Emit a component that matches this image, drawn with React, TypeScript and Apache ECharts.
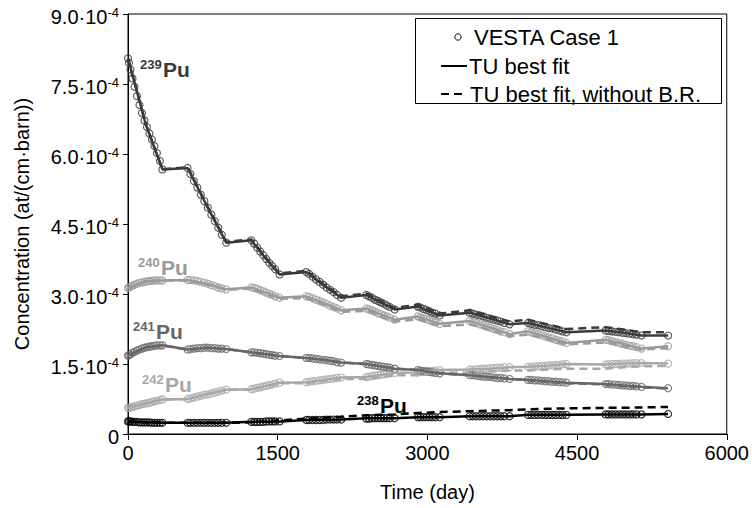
import React, { useEffect, useRef } from 'react';
import * as echarts from 'echarts';

const FONT = '"Liberation Sans", Arial, Helvetica, sans-serif';

// VESTA Case 1 sample times (days) – burn cycles plus end point
const vestaTimes = [
  0, 10, 25, 45, 65, 90, 115, 140, 165, 190, 215, 240, 265, 290, 320, 345,
  597, 625, 660, 695, 730, 765, 800, 835, 870, 905, 940, 984,
  1235, 1265, 1295, 1325, 1355, 1385, 1415, 1445, 1475, 1519,
  1786, 1815, 1850, 1885, 1920, 1955, 1990, 2025, 2060, 2095, 2137,
  2388, 2415, 2445, 2475, 2505, 2535, 2565, 2595, 2625, 2672,
  2905, 2930, 2960, 2990, 3020, 3050, 3080, 3123,
  3423, 3455, 3490, 3525, 3560, 3595, 3630, 3665, 3700, 3735, 3770, 3824,
  4008, 4040, 4075, 4110, 4145, 4180, 4215, 4250, 4285, 4320, 4355, 4393,
  4787, 4815, 4850, 4885, 4920, 4955, 4990, 5025, 5060, 5095, 5145,
  5412,
];

// concentrations in units of 1e-4 at/(cm·barn)
const pu239Vesta = [
  8.05, 7.95, 7.81, 7.62, 7.44, 7.24, 7.05, 6.88, 6.72, 6.58, 6.44, 6.31, 6.17, 6.02, 5.85, 5.67,
  5.70, 5.57, 5.42, 5.28, 5.13, 4.99, 4.85, 4.70, 4.56, 4.42, 4.27, 4.10,
  4.15, 4.08, 3.99, 3.91, 3.83, 3.75, 3.67, 3.60, 3.53, 3.42,
  3.47, 3.43, 3.37, 3.31, 3.26, 3.20, 3.14, 3.09, 3.04, 2.98, 2.92,
  2.98, 2.95, 2.92, 2.88, 2.85, 2.82, 2.79, 2.75, 2.72, 2.67,
  2.73, 2.71, 2.68, 2.66, 2.63, 2.60, 2.58, 2.54,
  2.60, 2.58, 2.56, 2.54, 2.52, 2.49, 2.47, 2.45, 2.43, 2.41, 2.38, 2.35,
  2.38, 2.36, 2.34, 2.33, 2.31, 2.29, 2.27, 2.26, 2.24, 2.22, 2.20, 2.18,
  2.22, 2.21, 2.20, 2.19, 2.18, 2.17, 2.16, 2.15, 2.14, 2.13, 2.11,
  2.11,
];
const pu240Vesta = [
  3.13, 3.14, 3.16, 3.18, 3.20, 3.22, 3.24, 3.25, 3.26, 3.27, 3.28, 3.28, 3.29, 3.29, 3.29, 3.29,
  3.30, 3.30, 3.29, 3.28, 3.26, 3.24, 3.22, 3.19, 3.17, 3.14, 3.12, 3.10,
  3.14, 3.13, 3.11, 3.08, 3.06, 3.03, 3.00, 2.98, 2.95, 2.92,
  2.95, 2.94, 2.91, 2.88, 2.85, 2.82, 2.79, 2.75, 2.72, 2.69, 2.65,
  2.69, 2.67, 2.65, 2.62, 2.59, 2.57, 2.54, 2.52, 2.49, 2.45,
  2.52, 2.50, 2.48, 2.46, 2.44, 2.41, 2.39, 2.36,
  2.42, 2.40, 2.38, 2.35, 2.33, 2.30, 2.28, 2.25, 2.23, 2.20, 2.18, 2.14,
  2.20, 2.18, 2.16, 2.14, 2.12, 2.09, 2.07, 2.05, 2.02, 2.00, 1.98, 1.95,
  2.02, 2.01, 1.99, 1.97, 1.95, 1.93, 1.91, 1.89, 1.88, 1.86, 1.83,
  1.88,
];
const pu241Vesta = [
  1.68, 1.69, 1.71, 1.74, 1.76, 1.79, 1.81, 1.83, 1.85, 1.86, 1.87, 1.88, 1.89, 1.90, 1.90, 1.90,
  1.81, 1.82, 1.83, 1.84, 1.84, 1.85, 1.85, 1.84, 1.84, 1.83, 1.83, 1.82,
  1.75, 1.75, 1.74, 1.73, 1.72, 1.71, 1.70, 1.69, 1.68, 1.67,
  1.63, 1.63, 1.62, 1.61, 1.60, 1.59, 1.58, 1.57, 1.56, 1.54, 1.53,
  1.50, 1.49, 1.48, 1.47, 1.46, 1.45, 1.44, 1.43, 1.42, 1.40,
  1.37, 1.36, 1.35, 1.34, 1.33, 1.32, 1.31, 1.30,
  1.26, 1.26, 1.25, 1.24, 1.23, 1.23, 1.22, 1.21, 1.20, 1.20, 1.19, 1.18,
  1.16, 1.16, 1.15, 1.15, 1.14, 1.13, 1.13, 1.12, 1.12, 1.11, 1.11, 1.10,
  1.07, 1.07, 1.06, 1.06, 1.05, 1.04, 1.04, 1.03, 1.03, 1.02, 1.01,
  0.98,
];
const pu242Vesta = [
  0.56, 0.56, 0.57, 0.58, 0.59, 0.61, 0.62, 0.64, 0.65, 0.66, 0.67, 0.69, 0.70, 0.71, 0.73, 0.74,
  0.75, 0.76, 0.78, 0.80, 0.82, 0.84, 0.85, 0.87, 0.89, 0.91, 0.93, 0.95,
  0.96, 0.97, 0.99, 1.00, 1.02, 1.03, 1.05, 1.06, 1.08, 1.10,
  1.11, 1.12, 1.13, 1.14, 1.15, 1.16, 1.17, 1.18, 1.19, 1.20, 1.21,
  1.22, 1.23, 1.24, 1.25, 1.26, 1.27, 1.28, 1.29, 1.30, 1.31,
  1.32, 1.33, 1.33, 1.34, 1.35, 1.35, 1.36, 1.37,
  1.38, 1.38, 1.39, 1.39, 1.40, 1.40, 1.41, 1.41, 1.42, 1.42, 1.43, 1.43,
  1.44, 1.44, 1.45, 1.45, 1.46, 1.46, 1.47, 1.47, 1.48, 1.48, 1.49, 1.50,
  1.49, 1.49, 1.50, 1.50, 1.50, 1.51, 1.51, 1.51, 1.52, 1.52, 1.52,
  1.51,
];
const pu238Vesta = [
  0.27, 0.27, 0.27, 0.26, 0.26, 0.26, 0.25, 0.25, 0.25, 0.25, 0.25, 0.24, 0.24, 0.24, 0.24, 0.24,
  0.24, 0.24, 0.24, 0.24, 0.24, 0.24, 0.24, 0.24, 0.24, 0.24, 0.24, 0.24,
  0.26, 0.26, 0.26, 0.26, 0.26, 0.27, 0.27, 0.27, 0.27, 0.27,
  0.30, 0.30, 0.30, 0.30, 0.30, 0.30, 0.31, 0.31, 0.31, 0.31, 0.31,
  0.33, 0.33, 0.34, 0.34, 0.34, 0.34, 0.34, 0.34, 0.34, 0.34,
  0.36, 0.36, 0.36, 0.36, 0.36, 0.36, 0.36, 0.36,
  0.38, 0.38, 0.38, 0.38, 0.38, 0.38, 0.38, 0.38, 0.38, 0.38, 0.38, 0.38,
  0.41, 0.41, 0.41, 0.41, 0.41, 0.41, 0.41, 0.41, 0.41, 0.41, 0.41, 0.41,
  0.42, 0.42, 0.42, 0.42, 0.42, 0.42, 0.42, 0.42, 0.42, 0.42, 0.42,
  0.43,
];

// TU best fit curves (days / 1e-4 units)
const fitTimes = [
  0, 175, 345, 597, 790, 984, 1235, 1380, 1519, 1786, 1960, 2137, 2388, 2530,
  2672, 2905, 3015, 3123, 3423, 3620, 3824, 4008, 4200, 4393, 4787, 4965, 5145, 5412,
];
const pu239Fit = [8.05, 6.66, 5.67, 5.70, 4.89, 4.10, 4.15, 3.76, 3.42, 3.47, 3.19, 2.92, 2.98, 2.82, 2.67, 2.73, 2.63, 2.54, 2.60, 2.48, 2.35, 2.38, 2.28, 2.18, 2.22, 2.17, 2.11, 2.11];
const pu239NoBR = [8.05, 6.66, 5.67, 5.72, 4.90, 4.12, 4.17, 3.78, 3.44, 3.50, 3.21, 2.95, 3.01, 2.85, 2.70, 2.77, 2.67, 2.58, 2.65, 2.53, 2.41, 2.45, 2.35, 2.25, 2.29, 2.24, 2.18, 2.18];
const pu240Fit = [3.13, 3.27, 3.29, 3.30, 3.22, 3.10, 3.14, 3.03, 2.92, 2.95, 2.81, 2.65, 2.69, 2.57, 2.45, 2.52, 2.44, 2.36, 2.42, 2.29, 2.14, 2.20, 2.08, 1.95, 2.02, 1.93, 1.83, 1.88];
const pu240NoBR = [3.13, 3.27, 3.29, 3.29, 3.21, 3.09, 3.12, 3.01, 2.90, 2.91, 2.78, 2.62, 2.64, 2.53, 2.41, 2.46, 2.39, 2.31, 2.35, 2.23, 2.10, 2.13, 2.03, 1.92, 1.96, 1.88, 1.81, 1.84];
const pu241Fit = [1.68, 1.855, 1.90, 1.81, 1.85, 1.82, 1.75, 1.71, 1.67, 1.63, 1.59, 1.53, 1.50, 1.45, 1.40, 1.37, 1.335, 1.30, 1.26, 1.22, 1.18, 1.16, 1.13, 1.10, 1.07, 1.04, 1.01, 0.98];
const pu241NoBR = [1.68, 1.855, 1.90, 1.81, 1.85, 1.82, 1.75, 1.71, 1.67, 1.63, 1.59, 1.53, 1.50, 1.45, 1.40, 1.37, 1.33, 1.30, 1.26, 1.22, 1.18, 1.15, 1.12, 1.09, 1.06, 1.03, 1.00, 0.97];
const pu242Fit = [0.56, 0.655, 0.74, 0.75, 0.85, 0.95, 0.96, 1.03, 1.10, 1.11, 1.16, 1.21, 1.22, 1.265, 1.31, 1.32, 1.35, 1.37, 1.38, 1.40, 1.43, 1.44, 1.465, 1.50, 1.49, 1.51, 1.52, 1.51];
const pu242NoBR = [0.56, 0.655, 0.74, 0.75, 0.85, 0.95, 0.95, 1.02, 1.09, 1.09, 1.14, 1.18, 1.18, 1.22, 1.26, 1.26, 1.29, 1.31, 1.31, 1.34, 1.36, 1.36, 1.38, 1.40, 1.40, 1.43, 1.45, 1.46];
const pu238Fit = [0.27, 0.25, 0.24, 0.24, 0.24, 0.24, 0.26, 0.265, 0.27, 0.30, 0.305, 0.31, 0.34, 0.34, 0.34, 0.36, 0.36, 0.36, 0.38, 0.38, 0.38, 0.41, 0.41, 0.41, 0.42, 0.42, 0.42, 0.43];
const pu238NoBR = [0.27, 0.25, 0.24, 0.24, 0.24, 0.24, 0.25, 0.27, 0.29, 0.33, 0.35, 0.37, 0.40, 0.41, 0.42, 0.45, 0.46, 0.47, 0.49, 0.50, 0.51, 0.53, 0.54, 0.55, 0.56, 0.56, 0.57, 0.58];

const legendNames = ['VESTA Case 1', 'TU best fit', 'TU best fit, without B.R.'];

const isotopes = [
  { mass: '242', color: '#a8a8a8', vesta: pu242Vesta, fit: pu242Fit, nobr: pu242NoBR, lx: 142, ly: 384 },
  { mass: '240', color: '#9a9a9a', vesta: pu240Vesta, fit: pu240Fit, nobr: pu240NoBR, lx: 138, ly: 267 },
  { mass: '241', color: '#666666', vesta: pu241Vesta, fit: pu241Fit, nobr: pu241NoBR, lx: 133, ly: 331 },
  { mass: '239', color: '#3a3a3a', vesta: pu239Vesta, fit: pu239Fit, nobr: pu239NoBR, lx: 140, ly: 69 },
  { mass: '238', color: '#000000', vesta: pu238Vesta, fit: pu238Fit, nobr: pu238NoBR, lx: 357, ly: 405 },
];

export default function App() {
  const ref = useRef<HTMLDivElement>(null);
  useEffect(() => {
    if (!ref.current) return;
    const chart = echarts.init(ref.current, null, { renderer: 'svg' });
    const series: any[] = [];
    const graphic: any[] = [];
    isotopes.forEach((iso) => {
      series.push({
        name: iso.mass + 'Pu ' + legendNames[0], type: 'scatter', silent: true, z: 2,
        data: vestaTimes.map((t, i) => [t, iso.vesta[i]]),
        symbol: 'circle', symbolSize: 7,
        itemStyle: { color: 'rgba(255,255,255,0)', borderColor: iso.color, borderWidth: 1.2 },
      });
      series.push({
        name: iso.mass + 'Pu ' + legendNames[1], type: 'line', silent: true, z: 3,
        data: fitTimes.map((t, i) => [t, iso.fit[i]]),
        symbol: 'none', showSymbol: false,
        lineStyle: { color: iso.color, width: 2.5 },
      });
      series.push({
        name: iso.mass + 'Pu ' + legendNames[2], type: 'line', silent: true, z: 3,
        data: fitTimes.map((t, i) => [t, iso.nobr[i]]),
        symbol: 'none', showSymbol: false,
        lineStyle: { color: iso.color, width: 2.5, type: [8, 5] },
      });
      graphic.push({
        type: 'text', x: iso.lx, y: iso.ly - 5,
        style: {
          text: iso.mass, fill: iso.color, fontFamily: FONT, fontSize: 13, fontWeight: 'bold',
          align: 'left', verticalAlign: 'middle',
        },
      });
      graphic.push({
        type: 'text', x: iso.lx + 23, y: iso.ly,
        style: {
          text: 'Pu', fill: iso.color, fontFamily: FONT, fontSize: 21, fontWeight: 'bold',
          align: 'left', verticalAlign: 'middle',
        },
      });
    });

    // legend box (drawn as graphic for exact styling)
    const legendText = { fontFamily: FONT, fontSize: 22, fill: '#000', align: 'left', verticalAlign: 'middle' };
    graphic.push(
      {
        type: 'group', z: 10,
        children: [
          { type: 'rect', shape: { x: 415.5, y: 18.5, width: 306, height: 85 }, style: { fill: '#fff', stroke: '#000', lineWidth: 1 } },
          { type: 'circle', shape: { cx: 458, cy: 37, r: 3.2 }, style: { fill: '#fff', stroke: '#000', lineWidth: 1 } },
          { type: 'text', x: 474, y: 37, style: { ...legendText, text: legendNames[0] } },
          { type: 'line', shape: { x1: 441, y1: 66, x2: 467, y2: 66 }, style: { stroke: '#000', lineWidth: 2 } },
          { type: 'text', x: 469, y: 66, style: { ...legendText, text: legendNames[1] } },
          { type: 'line', shape: { x1: 441, y1: 94, x2: 467, y2: 94 }, style: { stroke: '#000', lineWidth: 2, lineDash: [8, 5] } },
          { type: 'text', x: 470, y: 94, style: { ...legendText, text: legendNames[2] } },
        ],
      },
    );

    chart.setOption({
      animation: false,
      backgroundColor: '#fff',
      grid: {
        left: 128, top: 14, width: 599, height: 420,
        show: true, borderColor: '#000', borderWidth: 1, backgroundColor: 'transparent',
      },
      xAxis: {
        type: 'value', min: 0, max: 6000, interval: 1500,
        name: 'Time (day)', nameLocation: 'middle', nameGap: 48,
        nameTextStyle: { fontFamily: FONT, fontSize: 20, color: '#000' },
        axisLine: { show: true, lineStyle: { color: '#000', width: 1 } },
        axisTick: { show: true, inside: false, length: 6, lineStyle: { color: '#000' } },
        axisLabel: { margin: 9, fontFamily: FONT, fontSize: 20, color: '#000', formatter: (v: number) => String(v) },
        splitLine: { show: false },
      },
      yAxis: {
        type: 'value', min: 0, max: 9, interval: 1.5,
        name: 'Concentration (at/(cm·barn))', nameLocation: 'middle', nameGap: 96, nameRotate: 90,
        nameTextStyle: { fontFamily: FONT, fontSize: 20, color: '#000' },
        axisLine: { show: true, lineStyle: { color: '#000', width: 1 } },
        axisTick: { show: true, inside: false, length: 5, lineStyle: { color: '#000' } },
        axisLabel: {
          margin: 9, padding: [5, 0, 0, 0],
          formatter: (v: number) => (v === 0 ? '{m|0}' : `{m|${v.toFixed(1)}·10}{s|-4}`),
          rich: {
            m: { fontFamily: FONT, fontSize: 20, color: '#000', lineHeight: 22 },
            s: { fontFamily: FONT, fontSize: 13, color: '#000', lineHeight: 13, verticalAlign: 'top' },
          },
        },
        splitLine: { show: false },
      },
      series,
      graphic,
    });
    return () => chart.dispose();
  }, []);
  return (
    <div
      ref={ref}
      style={{ position: 'fixed', left: 0, top: 0, width: 752, height: 508, background: '#fff' }}
    />
  );
}
